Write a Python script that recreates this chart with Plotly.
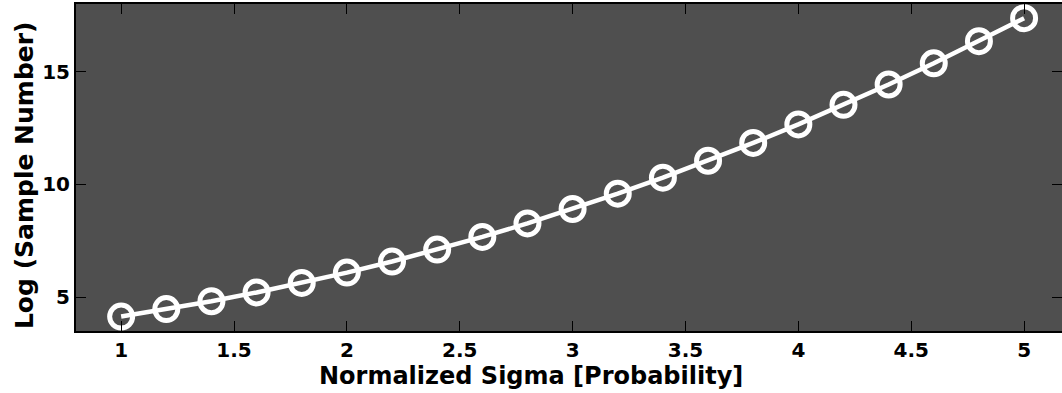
import plotly.graph_objects as go

# Normalized sigma levels and the corresponding log of required sample count
sigma = [1.0, 1.2, 1.4, 1.6, 1.8, 2.0, 2.2, 2.4, 2.6, 2.8, 3.0,
         3.2, 3.4, 3.6, 3.8, 4.0, 4.2, 4.4, 4.6, 4.8, 5.0]
log_samples = [4.14, 4.47, 4.82, 5.21, 5.63, 6.09, 6.58, 7.11, 7.67, 8.27, 8.91,
               9.59, 10.30, 11.05, 11.84, 12.66, 13.53, 14.43, 15.37, 16.35, 17.37]

x_ticks = [1, 1.5, 2, 2.5, 3, 3.5, 4, 4.5, 5]
x_tick_text = ["1", "1.5", "2", "2.5", "3", "3.5", "4", "4.5", "5"]
y_ticks = [5, 10, 15]
y_tick_text = ["5", "10", "15"]

x_title = "Normalized Sigma [Probability]"
y_title = "Log (Sample Number)"

font_family = "DejaVu Sans, Verdana, sans-serif"

fig = go.Figure(
    go.Scatter(
        x=sigma,
        y=log_samples,
        mode="lines+markers",
        line=dict(color="white", width=4.5),
        marker=dict(symbol="circle-open", size=23, color="white",
                    line=dict(width=5, color="white")),
        hoverinfo="x+y",
    )
)

axis_common = dict(
    showgrid=False,
    zeroline=False,
    showline=True,
    linecolor="black",
    linewidth=2,
    mirror="ticks",
    ticks="inside",
    ticklen=10,
    tickwidth=1,
    tickcolor="black",
    tickfont=dict(family=font_family, size=20, color="black", weight="bold"),
    automargin=False,
)

fig.update_layout(
    width=1062,
    height=393,
    margin=dict(l=76, r=0, t=4, b=62),
    paper_bgcolor="white",
    plot_bgcolor="#4f4f4f",
    showlegend=False,
    xaxis=dict(range=[0.8, 5.168], tickvals=x_ticks, ticktext=x_tick_text, **axis_common),
    yaxis=dict(range=[3.5, 18], tickvals=y_ticks, ticktext=y_tick_text, **axis_common),
)

# Axis titles placed as annotations so they can be centred on the whole figure
title_font = dict(family=font_family, size=24, color="black", weight="bold")
fig.add_annotation(
    text=x_title, xref="paper", yref="paper",
    x=0.4615, y=-0.137, xanchor="center", yanchor="middle",
    showarrow=False, font=title_font,
)
fig.add_annotation(
    text=y_title, xref="paper", yref="paper",
    x=-0.0527, y=0.477, xanchor="center", yanchor="middle", textangle=-90,
    showarrow=False, font=dict(title_font, size=25),
)

fig.write_html("out.html")
